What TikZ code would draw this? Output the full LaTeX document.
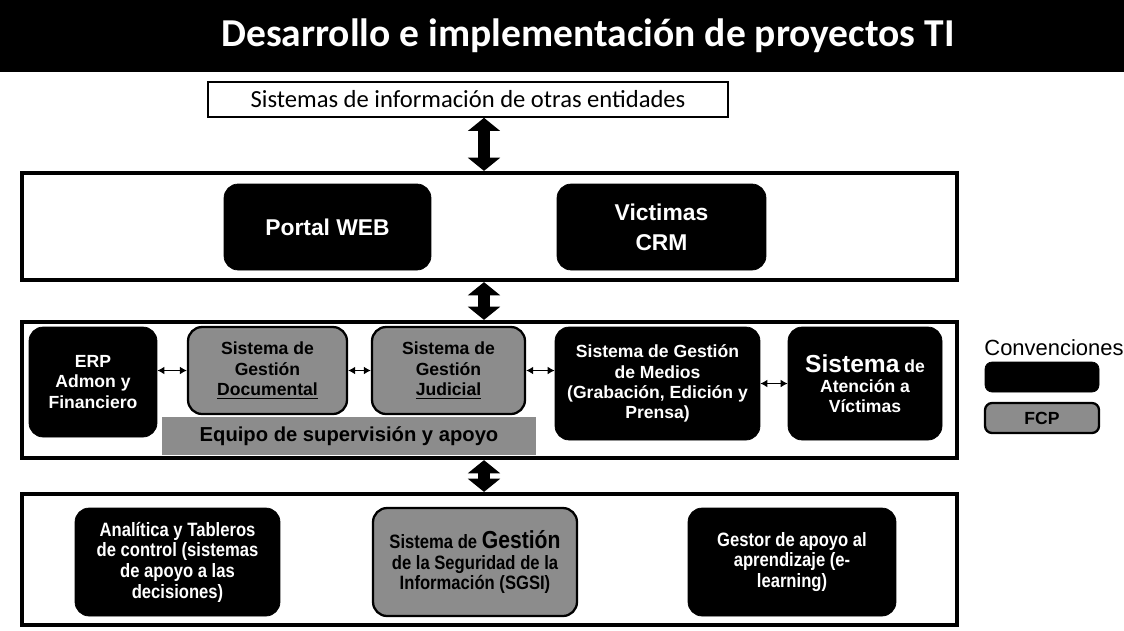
\documentclass[tikz,border=0pt]{standalone}
\usepackage{fontspec}
\setmainfont{Liberation Sans}
\newfontfamily\titlefont{Carlito}
\newfontfamily\narrowfont{Liberation Sans}[FakeStretch=0.86]
\usetikzlibrary{arrows.meta}

\tikzset{
  blkbox/.style={draw=black, fill=black, rounded corners=8pt, inner sep=2pt,
    text=white, align=center, font=\bfseries\fontsize{10}{11.5}\selectfont},
  graybox/.style={draw=black, line width=1.3pt, fill=black!45, rounded corners=8pt,
    inner sep=2pt, text=black, align=center, font=\bfseries\fontsize{10}{11.5}\selectfont},
  lowtext/.style={font=\narrowfont\bfseries\fontsize{11}{11.8}\selectfont},
  panel/.style={draw=black, line width=2.4pt, inner sep=0pt},
  bigarrow/.style={line width=6.5pt, {Triangle[width=18pt,length=7.5pt]}-{Triangle[width=18pt,length=7.5pt]}},
  smallarrow/.style={line width=1.1pt, {Latex[length=4pt,width=4.5pt]}-{Latex[length=4pt,width=4.5pt]}}
}

\begin{document}
\begin{tikzpicture}[x=0.02cm, y=-0.02cm]
			%%%%% START %%%%%
			\useasboundingbox (0,0) rectangle (1124,630);
			
			\fill[black] (0,0) rectangle (1124,72);
			\node[text=white, font=\titlefont\bfseries\fontsize{22.5}{26}\selectfont] (title) at (588,36) {Desarrollo e implementación de proyectos TI};
			
			\node[draw=black, line width=0.9pt, inner sep=0pt, minimum width=10.4cm, minimum height=0.7cm, font=\titlefont\fontsize{14}{16}\selectfont] (src) at (468,99.5) {Sistemas de información de otras entidades};
			
			% panels
			\node[panel, minimum width=18.7cm, minimum height=2.14cm] (pan1) at (489.5,226.5) {};
			\node[panel, minimum width=18.7cm, minimum height=2.72cm] (pan2) at (489.5,390) {};
			\node[panel, minimum width=18.7cm, minimum height=2.62cm] (pan3) at (489.5,559.5) {};
			
			\coordinate (ax) at (484,0);
			\draw[bigarrow] (ax |- src.south) -- (ax |- pan1.north);
			\draw[bigarrow] (ax |- pan1.south) -- (ax |- pan2.north);
			\draw[bigarrow] (ax |- pan2.south) -- (ax |- pan3.north);
			
			% top level
			\node[blkbox, minimum width=4.14cm, minimum height=1.72cm, font=\bfseries\fontsize{13}{15}\selectfont] (web) at (327.5,227) {Portal WEB};
			\node[blkbox, minimum width=4.18cm, minimum height=1.72cm, font=\bfseries\fontsize{13}{17}\selectfont] (crm) at (661.5,227) {Victimas\\CRM};
			
			% middle level
			\node[blkbox, minimum width=2.56cm, minimum height=2.2cm] (erp) at (93,382) {ERP\\Admon y\\Financiero};
			\node[graybox, minimum width=3.18cm, minimum height=1.74cm] (sgdoc) at (267.5,370.5) {Sistema de\\Gestión\\\underline{Documental}};
			\node[graybox, minimum width=3.06cm, minimum height=1.74cm] (sgjud) at (448.5,370.5) {Sistema de\\Gestión\\\underline{Judicial}};
			\node[fill=black!45, inner sep=0pt, minimum width=7.48cm, minimum height=0.76cm, font=\bfseries\fontsize{11.5}{13}\selectfont] (equipo) at (349,436) {Equipo de supervisión y apoyo};
			\node[blkbox, minimum width=4.1cm, minimum height=2.26cm] (medios) at (657.5,383.5) {Sistema de Gestión\\de Medios\\(Grabación, Edición y\\Prensa)};
			\node[blkbox, minimum width=3.08cm, minimum height=2.26cm] (atencion) at (865,383.5) {{\fontsize{14}{16}\selectfont Sistema} de\\Atención a\\Víctimas};
			
			\draw[smallarrow] (erp.east |- sgdoc.west) -- (sgdoc.west);
			\draw[smallarrow] (sgdoc.east) -- (sgjud.west);
			\draw[smallarrow] (sgjud.east) -- (sgjud.east -| medios.west);
			\draw[smallarrow] (medios.east) -- (atencion.west);
			
			% bottom level
			\node[blkbox, lowtext, minimum width=4.1cm, minimum height=2.16cm] (bi) at (177.5,562) {Analítica y Tableros\\de control (sistemas\\de apoyo a las\\decisiones)};
			\node[graybox, lowtext, minimum width=4.08cm, minimum height=2.16cm] (sgsi) at (475,562) {Sistema de {\fontsize{14}{15}\selectfont Gestión}\\de la Seguridad de la\\Información (SGSI)};
			\node[blkbox, lowtext, minimum width=4.16cm, minimum height=2.16cm] (elearn) at (792,562) {Gestor de apoyo al\\aprendizaje (e-\\learning)};
			
			% legend
			\node[font=\fontsize{12.5}{14}\selectfont] (conv) at (1054,348) {Convenciones};
			\node[blkbox, rounded corners=4pt, minimum width=2.28cm, minimum height=0.6cm] (legblk) at (1042,377) {};
			\node[graybox, rounded corners=4pt, minimum width=2.28cm, minimum height=0.6cm] (leggray) at (1042,418) {FCP};
			
			%%%%% END %%%%%
		\end{tikzpicture}
\end{document}
